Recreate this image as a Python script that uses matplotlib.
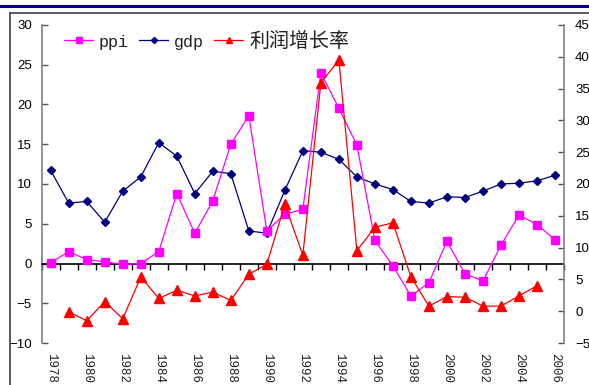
import numpy as np
import matplotlib
matplotlib.use("Agg")
import matplotlib.pyplot as plt
from matplotlib.lines import Line2D

years = list(range(1978, 2007))
ppi = [0.1, 1.5, 0.5, 0.2, -0.1, 0.0, 1.5, 8.8, 3.8, 7.9, 15.0, 18.6, 4.1, 6.2,
       6.8, 24.0, 19.5, 14.9, 2.9, -0.3, -4.1, -2.4, 2.8, -1.3, -2.2, 2.3, 6.1, 4.9, 3.0]
gdp = [11.7, 7.6, 7.8, 5.2, 9.1, 10.9, 15.2, 13.5, 8.8, 11.6, 11.3, 4.1, 3.8, 9.2,
       14.2, 14.0, 13.1, 10.9, 10.0, 9.3, 7.8, 7.6, 8.4, 8.3, 9.1, 10.0, 10.1, 10.4, 11.1]
profit = [np.nan, -0.1, -1.5, 1.5, -1.2, 5.4, 2.0, 3.3, 2.4, 3.0, 1.7, 5.8, 7.4, 16.8,
          8.8, 35.9, 39.5, 9.5, 13.2, 13.9, 5.4, 0.8, 2.3, 2.2, 0.8, 0.8, 2.4, 4.0, np.nan]
labels = ["ppi", "gdp", "利润增长率"]
left_ticks = [-10, -5, 0, 5, 10, 15, 20, 25, 30]
right_ticks = [-5, 0, 5, 10, 15, 20, 25, 30, 35, 40, 45]

W, H = 589, 385
fig = plt.figure(figsize=(W / 100, H / 100), dpi=100)
ax = fig.add_axes([41.7 / W, 1 - 343 / H, (564 - 41.7) / W, (343 - 25) / H])
ax2 = ax.twinx()

x = np.arange(len(years))
ax.plot(x, gdp, color="#000080", lw=0.9, marker="D", ms=4.5, label=labels[1], zorder=3)
ax.plot(x, ppi, color="#FF00FF", lw=0.9, marker="s", ms=5.8, label=labels[0], zorder=4)
prof = np.array(profit, dtype=float)
m = ~np.isnan(prof)
ax2.plot(x[m], prof[m], color="#FF0000", lw=0.9, marker="^", ms=6.5, label=labels[2])

ax.set_xlim(-0.5, len(years) - 0.5)
ax.set_ylim(-10, 30)
ax2.set_ylim(-5, 45)
ax.set_yticks(left_ticks)
ax2.set_yticks(right_ticks)

for a in (ax, ax2):
    a.spines["top"].set_visible(False)
    a.patch.set_visible(False)
ax.spines["right"].set_visible(False)
ax2.spines["left"].set_visible(False)
ax2.spines["bottom"].set_visible(False)
ax.spines["left"].set_color("#808080")
ax.spines["left"].set_linewidth(1.2)
ax2.spines["right"].set_color("#808080")
ax2.spines["right"].set_linewidth(1.2)

ax.tick_params(axis="y", direction="in", length=4, width=1, color="#555555",
               pad=7, labelsize=9.5)
ax2.tick_params(axis="y", direction="in", length=4, width=1, color="#555555",
                pad=8, labelsize=9.5)
for t in ax.get_yticklabels() + ax2.get_yticklabels():
    t.set_fontfamily("Liberation Sans")

# zero axis line with category boundary ticks
ax.spines["bottom"].set_position(("data", 0))
ax.spines["bottom"].set_color("black")
ax.spines["bottom"].set_linewidth(1.2)
ax.set_xticks(np.arange(-0.5, len(years), 1.0))
ax.tick_params(axis="x", direction="out", length=4, width=1, color="black", labelbottom=False)

# category labels at the bottom
sec = ax.secondary_xaxis("bottom")
sec.spines["bottom"].set_visible(False)
sec.set_xticks(x[::2])
sec.set_xticklabels([str(y) for y in years[::2]], rotation=270,
                    fontfamily="Liberation Mono", fontsize=9, color="#222222")
sec.tick_params(axis="x", length=0, pad=7)

# legend
handles = ax.get_lines()[::-1] + ax2.get_lines()
leg = fig.legend(handles, labels, loc="center left",
                 bbox_to_anchor=(64 / W, 1 - 41 / H), ncol=3, frameon=False,
                 borderpad=0, borderaxespad=0, handlelength=1.45, handletextpad=0.28,
                 columnspacing=0.53, markerscale=0.7,
                 prop={"family": ["Noto Sans CJK SC", "DejaVu Sans"], "size": 14.4})
for t in leg.get_texts()[:2]:
    t.set_fontfamily("Liberation Mono")
    t.set_fontsize(12)
for t in leg.get_texts():
    t.set_color("#222222")

# outer frame and header rule
fig.add_artist(Line2D([0, 1], [1 - 6 / H, 1 - 6 / H], transform=fig.transFigure,
                      color="#000080", lw=2.2))
fig.add_artist(Line2D([10 / W, 1], [1 - 13 / H, 1 - 13 / H], transform=fig.transFigure,
                      color="#404040", lw=1.2))
fig.add_artist(Line2D([10 / W, 10 / W], [0, 1 - 13 / H], transform=fig.transFigure,
                      color="#404040", lw=1.2))

fig.savefig("out.png", dpi=100)
